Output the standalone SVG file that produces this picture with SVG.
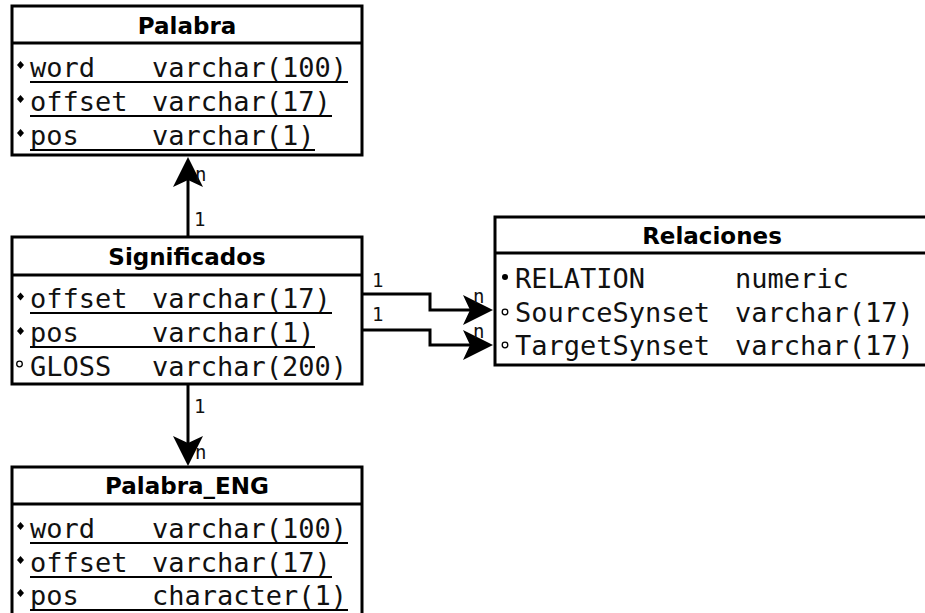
<svg xmlns="http://www.w3.org/2000/svg" width="925" height="613" viewBox="0 0 925 613">
<style>
.box{fill:#fff;stroke:#000;stroke-width:3}
.sep{stroke:#000;stroke-width:3}
.title{font-family:"DejaVu Sans",sans-serif;font-weight:bold;font-size:23px;text-anchor:middle;fill:#000}
.f{font-family:"DejaVu Sans Mono",monospace;font-size:27px;fill:#111}
.lbl{font-family:"DejaVu Sans Mono",monospace;font-size:19px;fill:#111}
.ul{stroke:#000;stroke-width:2}
.conn{fill:none;stroke:#000;stroke-width:3}
.ocirc{fill:#fff;stroke:#000;stroke-width:1.3}
</style>
<defs>
<marker id="arr" viewBox="0 0 30 30" refX="20" refY="15" markerWidth="30" markerHeight="30" markerUnits="userSpaceOnUse" orient="auto">
<path d="M0,0 L30,15 L0,30 L7,15 Z" fill="#000"/>
</marker>
<path id="dia" d="M0,-4 L3.5,0 L0,4 L-3.5,0 Z" fill="#000"/>
</defs>

<g id="connectors">
<path class="conn" d="M188,237 V167" marker-end="url(#arr)"/>
<text class="lbl" x="195" y="181">n</text>
<text class="lbl" x="194" y="226">1</text>
<path class="conn" d="M188,385 V456" marker-end="url(#arr)"/>
<text class="lbl" x="194" y="413">1</text>
<text class="lbl" x="195" y="459">n</text>
<path class="conn" d="M363,294 H430 V310 H483" marker-end="url(#arr)"/>
<path class="conn" d="M363,330 H430 V345 H483" marker-end="url(#arr)"/>
<text class="lbl" x="372" y="287">1</text>
<text class="lbl" x="372" y="321">1</text>
<text class="lbl" x="473" y="303">n</text>
<text class="lbl" x="473" y="338">n</text>
</g>

<g id="Palabra">
<rect class="box" x="12" y="6" width="350" height="149"/>
<line class="sep" x1="12" y1="43" x2="362" y2="43"/>
<text class="title" x="187" y="34">Palabra</text>
<use href="#dia" x="20.5" y="65"/>
<text class="f" x="30" y="77">word</text><text class="f" x="152" y="77">varchar(100)</text>
<line class="ul" x1="30" y1="82" x2="348" y2="82"/>
<use href="#dia" x="20.5" y="99"/>
<text class="f" x="30" y="111">offset</text><text class="f" x="152" y="111">varchar(17)</text>
<line class="ul" x1="30" y1="116" x2="332" y2="116"/>
<use href="#dia" x="20.5" y="133"/>
<text class="f" x="30" y="145">pos</text><text class="f" x="152" y="145">varchar(1)</text>
<line class="ul" x1="30" y1="150" x2="315" y2="150"/>
</g>

<g id="Significados">
<rect class="box" x="12" y="237" width="350" height="147"/>
<line class="sep" x1="12" y1="275" x2="362" y2="275"/>
<text class="title" x="187" y="265">Significados</text>
<use href="#dia" x="20.5" y="296.5"/>
<text class="f" x="30" y="308">offset</text><text class="f" x="152" y="308">varchar(17)</text>
<line class="ul" x1="30" y1="313" x2="332" y2="313"/>
<use href="#dia" x="20.5" y="331"/>
<text class="f" x="30" y="342">pos</text><text class="f" x="152" y="342">varchar(1)</text>
<line class="ul" x1="30" y1="347" x2="315" y2="347"/>
<circle class="ocirc" cx="19.5" cy="364" r="2.8"/>
<text class="f" x="30" y="376">GLOSS</text><text class="f" x="152" y="376">varchar(200)</text>
</g>

<g id="Relaciones">
<rect class="box" x="495" y="217" width="440" height="148"/>
<line class="sep" x1="495" y1="253" x2="935" y2="253"/>
<text class="title" x="712" y="244">Relaciones</text>
<circle cx="505" cy="277" r="3" fill="#000"/>
<text class="f" x="515" y="288">RELATION</text><text class="f" x="735" y="288">numeric</text>
<circle class="ocirc" cx="505" cy="312" r="2.8"/>
<text class="f" x="515" y="322">SourceSynset</text><text class="f" x="735" y="322">varchar(17)</text>
<circle class="ocirc" cx="505" cy="345" r="2.8"/>
<text class="f" x="515" y="355">TargetSynset</text><text class="f" x="735" y="355">varchar(17)</text>
</g>

<g id="Palabra_ENG">
<rect class="box" x="12" y="467" width="350" height="200"/>
<line class="sep" x1="12" y1="504" x2="362" y2="504"/>
<text class="title" x="187" y="494">Palabra_ENG</text>
<use href="#dia" x="20.5" y="526"/>
<text class="f" x="30" y="538">word</text><text class="f" x="152" y="538">varchar(100)</text>
<line class="ul" x1="30" y1="543" x2="348" y2="543"/>
<use href="#dia" x="20.5" y="560"/>
<text class="f" x="30" y="572">offset</text><text class="f" x="152" y="572">varchar(17)</text>
<line class="ul" x1="30" y1="577" x2="332" y2="577"/>
<use href="#dia" x="20.5" y="593"/>
<text class="f" x="30" y="605">pos</text><text class="f" x="152" y="605">character(1)</text>
<line class="ul" x1="30" y1="610" x2="348" y2="610"/>
</g>
</svg>
